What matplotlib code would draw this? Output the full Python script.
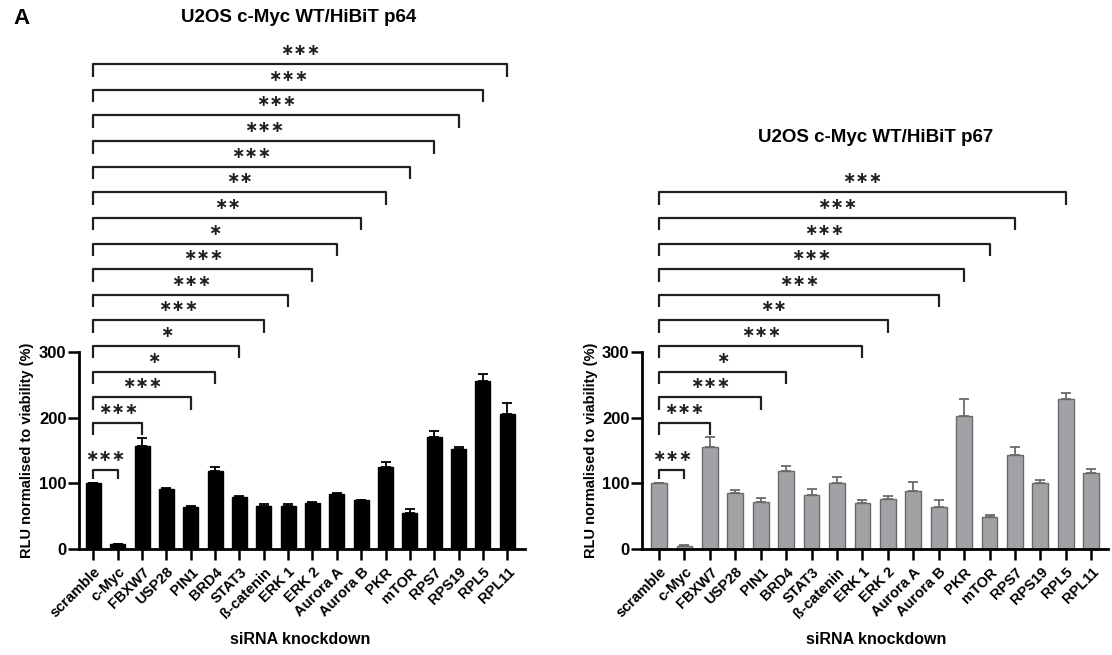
import matplotlib
matplotlib.use("Agg")
import matplotlib.pyplot as plt
import numpy as np

plt.rcParams['font.family'] = ['Liberation Sans', 'DejaVu Sans']
plt.rcParams['font.weight'] = 'bold'

# ---------------- data ----------------
genes = ['scramble', 'c-Myc', 'FBXW7', 'USP28', 'PIN1', 'BRD4', 'STAT3', 'ß-catenin',
         'ERK 1', 'ERK 2', 'Aurora A', 'Aurora B', 'PKR', 'mTOR', 'RPS7', 'RPS19',
         'RPL5', 'RPL11']

p64_mean = [100, 7, 157, 92, 64, 119, 79, 65, 65, 70, 83, 74, 125, 55, 170, 152, 255, 206]
p64_top = [100, 8, 169, 93, 65, 125, 80, 68, 68, 72, 85, 75, 132, 61, 179, 155, 267, 222]

p67_mean = [100, 4, 156, 86, 71, 119, 82, 100, 70, 76, 89, 64, 203, 49, 143, 101, 228, 115]
p67_top = [100, 6, 170, 90, 77, 126, 92, 109, 74, 81, 102, 74, 228, 52, 155, 105, 237, 122]

# comparisons vs scramble (index of gene, label), bottom to top
p64_sig = [(1, '***'), (2, '***'), (4, '***'), (5, '*'), (6, '*'), (7, '***'),
           (8, '***'), (9, '***'), (10, '*'), (11, '**'), (12, '**'), (13, '***'),
           (14, '***'), (15, '***'), (16, '***'), (17, '***')]
p67_sig = [(1, '***'), (2, '***'), (4, '***'), (5, '*'), (8, '***'), (9, '**'),
           (11, '***'), (12, '***'), (13, '***'), (14, '***'), (16, '***')]

W, H = 1112, 655
fig = plt.figure(figsize=(W / 100, H / 100), dpi=100)

def px_axes(x0, x1, ybot, ytop):
    return fig.add_axes([x0 / W, (H - ybot) / H, (x1 - x0) / W, (ybot - ytop) / H])

def bracket(ax, j, level, label):
    if level == 0:
        h, arm = 120, 14
    else:
        h, arm = 192 + 39 * (level - 1), 19
    ax.plot([0, 0, j, j], [h - arm, h, h, h - arm], color='#202020', lw=1.6,
            solid_capstyle='butt', clip_on=False)
    ax.text(j / 2, h + 9, label.replace('*', '\u2217'), ha='center', va='bottom',
            fontsize=11.5, family='DejaVu Sans', fontweight='bold', color='#202020')

def panel(ax, mean, top, sig, fc, ec, errc, xr):
    x = np.arange(len(genes))
    mean = np.array(mean)
    top = np.array(top)
    ax.bar(x, mean, width=0.62, color=fc, edgecolor=ec, linewidth=1.0, zorder=2)
    ax.errorbar(x, mean, yerr=[np.zeros(len(x)), top - mean], fmt='none',
                ecolor=errc, elinewidth=1.3, capsize=3.5, capthick=1.3, zorder=1)
    ax.set_xlim(*xr)
    ax.set_ylim(0, 790)
    for s in ['top', 'right']:
        ax.spines[s].set_visible(False)
    ax.spines['left'].set_bounds(0, 300)
    ax.spines['left'].set_linewidth(2.0)
    ax.spines['bottom'].set_linewidth(2.0)
    ax.set_yticks([0, 100, 200, 300])
    ax.set_xticks(x)
    ax.set_xticklabels(genes, rotation=45, ha='right', rotation_mode='anchor',
                       fontsize=10.5, fontweight='bold')
    ax.tick_params(axis='both', direction='out', length=8, width=1.8)
    ax.tick_params(axis='y', labelsize=12, pad=1)
    for t in ax.get_yticklabels():
        t.set_fontweight('bold')
    for k, (j, lab) in enumerate(sig):
        bracket(ax, j, k, lab)

ax1 = px_axes(79, 525, 549, 30)
panel(ax1, p64_mean, p64_top, p64_sig, 'black', 'black', 'black', (-0.59, 17.73))
ax2 = px_axes(642, 1108, 549, 30)
panel(ax2, p67_mean, p67_top, p67_sig, '#a2a2a6', '#6a6a6a', '#6a6a6a', (-0.67, 17.66))

fig.text(22 / W, 1 - 19 / H, 'A', fontsize=16, fontweight='bold', ha='center', va='center')
fig.text(299 / W, 1 - 17 / H, 'U2OS c-Myc WT/HiBiT p64', fontsize=13.5, fontweight='bold',
         ha='center', va='center')
fig.text(876 / W, 1 - 137 / H, 'U2OS c-Myc WT/HiBiT p67', fontsize=13.5, fontweight='bold',
         ha='center', va='center')
for xc in [27, 591]:
    fig.text(xc / W, 1 - 450 / H, 'RLU normalised to viability (%)', rotation=90,
             fontsize=10.5, fontweight='bold', ha='center', va='center')
fig.text(300 / W, 1 - 640 / H, 'siRNA knockdown', fontsize=11.5, fontweight='bold',
         ha='center', va='center')
fig.text(876 / W, 1 - 640 / H, 'siRNA knockdown', fontsize=11.5, fontweight='bold',
         ha='center', va='center')

fig.savefig('out.png', dpi=100)
